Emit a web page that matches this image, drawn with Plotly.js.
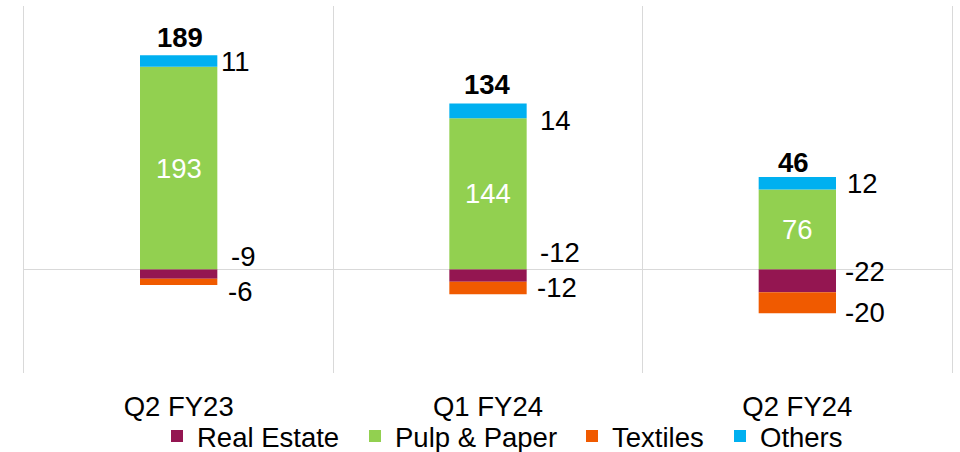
<!DOCTYPE html>
<html><head><meta charset="utf-8">
<script src="https://cdn.plot.ly/plotly-3.0.1.min.js"></script>
<style>html,body{margin:0;padding:0;background:#fff}#chart{width:960px;height:452px}</style>
</head><body><div id="chart"></div>
<script>
// ---- data ----
const categories = ['Q2 FY23', 'Q1 FY24', 'Q2 FY24'];
const realEstate = [-9, -12, -22];
const pulpPaper = [193, 144, 76];
const textiles = [-6, -12, -20];
const others = [11, 14, 12];
const totals = [189, 134, 46];
const seriesNames = ['Real Estate', 'Pulp & Paper', 'Textiles', 'Others'];

// ---- style ----
const seriesColors = ['#941651', '#92D050', '#F05A00', '#00B0F0'];
const FONT = '"Liberation Sans", Arial, Helvetica, sans-serif';
const FS = 27.5;
const BAR_W = 0.25;
// label nudges in pixels: [dx, dy(up positive)] per category
const othersNudge = [[2, 0], [11, -10], [9, 0]];
const reNudge = [[12, 17], [11, 23], [7, 9]];
const texNudge = [[9, -10], [8, 1], [7, -10]];
const totalNudge = [[1, 18], [-1, 19], [-4, 14]];
const legendTextX = [197, 395, 612, 760];

const seriesData = [realEstate, pulpPaper, textiles, others];
const legendIds = ['legend', 'legend2', 'legend3', 'legend4'];
const traces = seriesData.map((vals, k) => ({
  type: 'bar', x: categories, y: vals, name: seriesNames[k],
  width: BAR_W, legend: legendIds[k],
  marker: {color: seriesColors[k], line: {width: 0}},
  hoverinfo: 'x+y+name'
}));

const annotations = [];
categories.forEach((c, i) => {
  const xi = i;
  const right = xi + BAR_W / 2;
  annotations.push({x: xi, y: pulpPaper[i] / 2, text: String(pulpPaper[i]), showarrow: false,
    xanchor: 'center', yanchor: 'middle', font: {family: FONT, size: FS, color: '#ffffff'}});
  annotations.push({x: right, y: pulpPaper[i] + others[i] / 2, text: String(others[i]), showarrow: false,
    xanchor: 'left', yanchor: 'middle', xshift: othersNudge[i][0], yshift: othersNudge[i][1],
    font: {family: FONT, size: FS, color: '#000'}});
  annotations.push({x: right, y: realEstate[i] / 2, text: String(realEstate[i]), showarrow: false,
    xanchor: 'left', yanchor: 'middle', xshift: reNudge[i][0], yshift: reNudge[i][1],
    font: {family: FONT, size: FS, color: '#000'}});
  annotations.push({x: right, y: realEstate[i] + textiles[i] / 2, text: String(textiles[i]), showarrow: false,
    xanchor: 'left', yanchor: 'middle', xshift: texNudge[i][0], yshift: texNudge[i][1],
    font: {family: FONT, size: FS, color: '#000'}});
  annotations.push({x: xi, y: pulpPaper[i] + others[i], text: '<b>' + totals[i] + '</b>', showarrow: false,
    xanchor: 'center', yanchor: 'middle', xshift: totalNudge[i][0], yshift: totalNudge[i][1],
    font: {family: FONT, size: FS, color: '#000'}});
});

const layout = {
  width: 960, height: 452,
  margin: {l: 24, r: 8, t: 6, b: 79, pad: 0},
  paper_bgcolor: '#fff', plot_bgcolor: '#fff',
  barmode: 'relative',
  font: {family: FONT, size: FS, color: '#000'},
  xaxis: {type: 'category', range: [-0.5, 2.5], tickson: 'boundaries', showgrid: true,
    gridcolor: '#d9d9d9', gridwidth: 1, ticks: '', showline: false, zeroline: false,
    ticklabelstandoff: 14,
    tickfont: {family: FONT, size: FS, color: '#000'}, fixedrange: true},
  yaxis: {range: [-99, 251], showticklabels: false, showgrid: false, ticks: '',
    zeroline: true, zerolinecolor: '#d9d9d9', zerolinewidth: 1,
    showline: true, mirror: true, linecolor: '#d9d9d9', linewidth: 1, fixedrange: true},
  annotations: annotations,
  showlegend: true
};
legendIds.forEach((id, k) => {
  layout[id] = {orientation: 'h', xref: 'container', yref: 'container',
    x: (legendTextX[k] - 40) / 960, xanchor: 'left', y: 1 - 436 / 452, yanchor: 'middle',
    font: {family: FONT, size: FS, color: '#000'}, bgcolor: 'rgba(0,0,0,0)', borderwidth: 0};
});

Plotly.newPlot('chart', traces, layout, {displayModeBar: false, staticPlot: true});
</script>
</body></html>
